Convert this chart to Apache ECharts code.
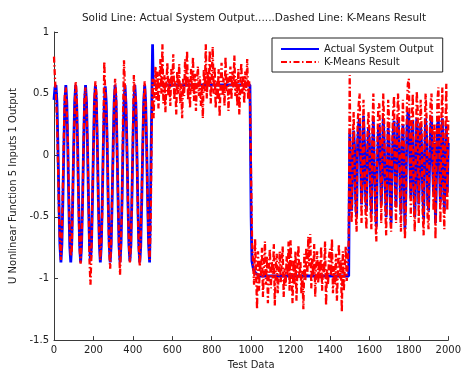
<!DOCTYPE html>
<html>
<head>
<meta charset="utf-8">
<script src="https://cdn.jsdelivr.net/npm/echarts@6/dist/echarts.min.js"></script>
<style>
  html, body { margin: 0; padding: 0; background: #fff; }
  #chart { width: 464px; height: 375px; }
</style>
</head>
<body>
<div id="chart"></div>
<script>
// sample spacing of the typed series (test data index)
const STEP = 5;

// actual system output, 0..495 (oscillating part)
const blueOsc = [
  0.45, 0.55, 0.57, 0.43, 0.07, -0.37, -0.73, -0.87, -0.73, -0.37,
  0.07, 0.43, 0.57, 0.43, 0.06, -0.38, -0.74, -0.87, -0.72, -0.36,
  0.08, 0.44, 0.57, 0.42, 0.07, -0.37, -0.73, -0.87, -0.73, -0.37,
  0.07, 0.43, 0.57, 0.43, 0.07, -0.36, -0.73, -0.86, -0.74, -0.38,
  0.06, 0.43, 0.57, 0.44, 0.08, -0.37, -0.72, -0.87, -0.73, -0.37,
  0.07, 0.42, 0.56, 0.43, 0.07, -0.38, -0.73, -0.87, -0.73, -0.36,
  0.07, 0.43, 0.57, 0.43, 0.06, -0.37, -0.74, -0.87, -0.72, -0.37,
  0.08, 0.43, 0.57, 0.42, 0.07, -0.37, -0.73, -0.86, -0.73, -0.37,
  0.07, 0.44, 0.57, 0.43, 0.07, -0.36, -0.73, -0.87, -0.74, -0.38,
  0.06, 0.43, 0.57, 0.43, 0.07, -0.37, -0.73, -0.87, -0.87, -0.86
];
// actual system output, 500..1495 (two plateaus) as [x, y]
const blueHold = [
  [500, 0.9], [503, 0.6], [510, 0.57], [994, 0.57],
  [1000, -0.5], [1004, -0.86], [1012, -0.93], [1025, -0.96],
  [1045, -0.98], [1495, -0.98]
];
// actual system output, 1500..2000
const blueChaos = [
  0.18, -0.2, -0.45, -0.1, 0.2, 0.05, -0.35, -0.5, 0.1, 0.25,
  0.3, -0.05, -0.4, -0.2, 0.32, 0.1, -0.3, -0.45, 0.0, 0.22,
  0.1, -0.25, -0.48, 0.05, 0.28, -0.1, -0.35, -0.58, -0.1, 0.2,
  0.25, -0.05, -0.4, -0.15, 0.3, 0.12, -0.25, -0.5, -0.2, 0.22,
  0.1, -0.32, -0.55, -0.1, 0.18, 0.28, -0.15, -0.42, 0.05, 0.3,
  0.15, -0.2, -0.48, 0.0, 0.25, -0.1, -0.6, -0.3, 0.2, 0.35,
  0.32, -0.05, -0.35, 0.1, 0.28, -0.2, -0.5, -0.15, 0.3, 0.18,
  -0.4, -0.1, 0.25, 0.05, -0.28, -0.52, 0.0, 0.3, 0.15, -0.35,
  -0.45, -0.1, 0.22, 0.32, -0.05, -0.3, 0.1, -0.55, -0.2, 0.25,
  0.28, -0.1, -0.38, 0.12, 0.3, -0.2, -0.45, 0.0, 0.25, -0.3,
  0.1
];

// k-means result, 0..495
const red1 = [
  0.8, 0.62, 0.48, 0.3, -0.05, -0.45, -0.7, -0.85, -0.62, -0.25,
  0.15, 0.5, 0.55, 0.35, 0.12, -0.3, -0.65, -0.82, -0.78, -0.3,
  0.05, 0.38, 0.6, 0.48, 0.0, -0.42, -0.76, -0.88, -0.66, -0.42,
  0.12, 0.48, 0.55, 0.38, 0.1, -0.3, -0.85, -1.05, -0.8, -0.3,
  0.02, 0.45, 0.6, 0.5, 0.05, -0.42, -0.7, -0.85, -0.7, -0.45,
  0.1, 0.76, 0.5, 0.35, 0.12, -0.4, -0.78, -0.92, -0.7, -0.3,
  0.0, 0.4, 0.62, 0.5, 0.0, -0.32, -0.75, -0.97, -0.68, -0.4,
  0.3, 0.77, 0.55, 0.4, 0.02, -0.38, -0.72, -0.87, -0.74, -0.35,
  0.15, 0.65, 0.52, 0.45, 0.05, -0.42, -0.75, -0.9, -0.65, -0.3,
  0.08, 0.42, 0.6, 0.4, 0.05, -0.35, -0.7, -0.85, -0.6, 0.1
];
// k-means result, 500..995
const red2 = [
  0.62, 0.3, 0.55, 0.72, 0.45, 0.68, 0.38, 0.6, 0.78, 0.5,
  0.9, 0.42, 0.65, 0.35, 0.58, 0.75, 0.48, 0.62, 0.4, 0.7,
  0.55, 0.82, 0.45, 0.6, 0.33, 0.68, 0.5, 0.74, 0.42, 0.58,
  0.3, 0.62, 0.48, 0.78, 0.55, 0.85, 0.45, 0.62, 0.38, 0.7,
  0.52, 0.8, 0.44, 0.66, 0.36, 0.6, 0.72, 0.48, 0.64, 0.4,
  0.58, 0.3, 0.7, 0.52, 0.9, 0.46, 0.68, 0.55, 0.85, 0.42,
  0.62, 0.88, 0.5, 0.72, 0.38, 0.6, 0.45, 0.7, 0.31, 0.57,
  0.75, 0.48, 0.63, 0.4, 0.8, 0.52, 0.66, 0.36, 0.59, 0.72,
  0.45, 0.68, 0.55, 0.81, 0.48, 0.62, 0.4, 0.7, 0.33, 0.56,
  0.75, 0.5, 0.64, 0.42, 0.68, 0.52, 0.78, 0.45, 0.6, 0.4
];
// k-means result, 1000..1495
const red3 = [
  -0.2, -0.72, -0.88, -1.05, -0.68, -0.95, -1.25, -0.78, -1.1, -0.85,
  -0.98, -0.75, -1.15, -0.9, -0.7, -1.05, -0.82, -1.2, -0.92, -0.76,
  -1.08, -0.86, -1.0, -0.72, -1.22, -0.9, -0.8, -1.12, -0.95, -0.78,
  -1.03, -0.88, -0.74, -1.15, -0.92, -1.06, -0.82, -0.98, -0.7, -1.1,
  -0.69, -0.95, -1.2, -0.85, -1.05, -0.78, -1.18, -0.9, -0.73, -1.0,
  -0.86, -1.12, -0.94, -1.25, -0.8, -1.02, -0.75, -0.97, -0.66, -0.9,
  -0.64, -1.08, -0.84, -0.98, -0.72, -1.15, -0.9, -0.78, -1.04, -0.86,
  -1.0, -0.74, -1.1, -0.88, -0.95, -0.7, -1.22, -0.92, -1.05, -0.82,
  -0.76, -0.98, -0.68, -1.12, -0.9, -1.05, -0.8, -1.18, -0.94, -0.72,
  -1.0, -0.85, -1.27, -0.78, -1.1, -0.92, -0.74, -1.02, -0.88, -0.7
];
// k-means result, 1500..2000
const red4 = [
  0.65, -0.35, -0.55, 0.05, 0.35, -0.1, -0.45, -0.62, 0.25, 0.4,
  0.5, 0.1, -0.55, -0.05, 0.45, -0.05, -0.45, -0.6, 0.15, 0.35,
  0.2, -0.4, -0.6, 0.2, 0.5, 0.0, -0.5, -0.7, 0.05, 0.4,
  0.42, 0.1, -0.55, 0.0, 0.5, 0.25, -0.4, -0.65, -0.05, 0.45,
  0.28, -0.5, -0.62, 0.05, 0.35, 0.48, -0.3, -0.55, 0.2, 0.5,
  0.3, -0.35, -0.62, 0.15, 0.45, 0.05, -0.68, -0.45, 0.4, 0.58,
  0.62, 0.1, -0.5, 0.3, 0.5, -0.35, -0.62, 0.0, 0.52, 0.35,
  -0.55, 0.05, 0.45, 0.2, -0.45, -0.65, 0.15, 0.5, 0.3, -0.5,
  -0.6, 0.05, 0.42, 0.5, 0.1, -0.45, 0.25, -0.68, -0.05, 0.45,
  0.55, 0.05, -0.55, 0.3, 0.55, -0.35, -0.6, 0.15, 0.58, -0.45,
  0.3
];

function seq(x0, ys) {
  return ys.map((y, i) => [x0 + i * STEP, y]);
}

const actual = seq(0, blueOsc).concat(blueHold, seq(1500, blueChaos));
const kmeans = seq(0, red1).concat(seq(500, red2), seq(1000, red3), seq(1500, red4));

const font = 'DejaVu Sans, sans-serif';
const txt = '#222';
const axisCol = '#3a3a3a';

const chart = echarts.init(document.getElementById('chart'));
chart.setOption({
  animation: false,
  backgroundColor: '#fff',
  title: {
    text: 'Solid Line: Actual System Output......Dashed Line: K-Means Result',
    left: 249,
    top: 8,
    textAlign: 'center',
    textStyle: { fontFamily: font, fontSize: 10.5, fontWeight: 'normal', color: txt }
  },
  legend: {
    orient: 'vertical',
    left: 272,
    top: 38,
    padding: [6, 9, 5, 8],
    itemGap: 3,
    itemWidth: 38,
    itemHeight: 12,
    borderColor: '#222',
    borderWidth: 1,
    backgroundColor: '#fff',
    itemStyle: { opacity: 0 },
    textStyle: { fontFamily: font, fontSize: 10, color: txt },
    data: ['Actual System Output', 'K-Means Result']
  },
  grid: { left: 53, right: 15, top: 32, bottom: 32 },
  xAxis: {
    type: 'value',
    min: 0, max: 2000, interval: 200,
    name: 'Test Data',
    nameLocation: 'middle',
    nameGap: 19,
    nameTextStyle: { fontFamily: font, fontSize: 10, color: txt },
    axisLine: { onZero: false, lineStyle: { color: axisCol } },
    axisTick: { inside: true, length: 4, lineStyle: { color: axisCol } },
    axisLabel: { fontFamily: font, fontSize: 10, color: txt, margin: 5, formatter: v => String(v) },
    splitLine: { show: false }
  },
  yAxis: {
    type: 'value',
    min: -1.5, max: 1, interval: 0.5,
    name: 'U Nonlinear Function 5 Inputs 1 Output',
    nameLocation: 'middle',
    nameGap: 36,
    nameTextStyle: { fontFamily: font, fontSize: 10, color: txt },
    axisLine: { show: true, onZero: false, lineStyle: { color: axisCol } },
    axisTick: { show: true, inside: true, length: 4, lineStyle: { color: axisCol } },
    axisLabel: { fontFamily: font, fontSize: 10, color: txt, margin: 5 },
    splitLine: { show: false }
  },
  series: [
    {
      name: 'Actual System Output',
      type: 'line',
      data: actual,
      showSymbol: false,
      symbol: 'none',
      color: '#0000ff',
      lineStyle: { color: '#0000ff', width: 2.8 }
    },
    {
      name: 'K-Means Result',
      type: 'line',
      data: kmeans,
      showSymbol: false,
      symbol: 'none',
      color: '#ff0000',
      lineStyle: { color: '#ff0000', width: 2.3, type: [6, 2.5, 1.5, 2.5] }
    }
  ]
});
</script>
</body>
</html>
